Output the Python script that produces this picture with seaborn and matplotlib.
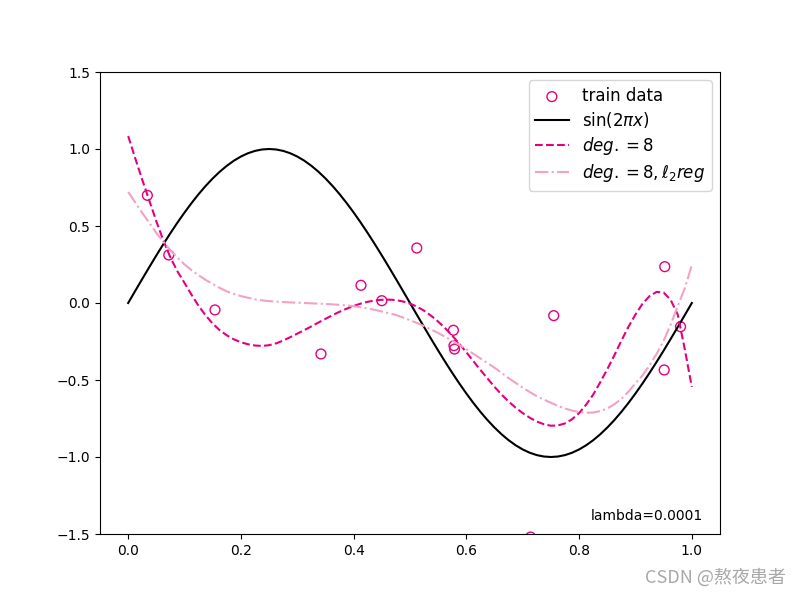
import matplotlib
matplotlib.use("Agg")
import matplotlib.pyplot as plt
import seaborn as sns

#------ train data ------
train_x = [0.034, 0.072, 0.154, 0.342, 0.413, 0.450, 0.512, 0.577, 0.578, 0.579,
           0.714, 0.755, 0.951, 0.952, 0.980]
train_y = [0.699, 0.312, -0.045, -0.331, 0.115, 0.015, 0.357, -0.177, -0.277, -0.299,
           -1.52, -0.082, -0.435, 0.236, -0.154]

# common x grid for the curves (step 0.0125)
grid_x = [i / 80 for i in range(81)]

#------ sin(2*pi*x) curve ------
sin_y = [0.0, 0.0785, 0.1564, 0.2334, 0.3090, 0.3827, 0.4540, 0.5225, 0.5878, 0.6494,
         0.7071, 0.7604, 0.8090, 0.8526, 0.8910, 0.9239, 0.9511, 0.9724, 0.9877, 0.9969,
         1.0, 0.9969, 0.9877, 0.9724, 0.9511, 0.9239, 0.8910, 0.8526, 0.8090, 0.7604,
         0.7071, 0.6494, 0.5878, 0.5225, 0.4540, 0.3827, 0.3090, 0.2334, 0.1564, 0.0785,
         0.0, -0.0785, -0.1564, -0.2334, -0.3090, -0.3827, -0.4540, -0.5225, -0.5878, -0.6494,
         -0.7071, -0.7604, -0.8090, -0.8526, -0.8910, -0.9239, -0.9511, -0.9724, -0.9877, -0.9969,
         -1.0, -0.9969, -0.9877, -0.9724, -0.9511, -0.9239, -0.8910, -0.8526, -0.8090, -0.7604,
         -0.7071, -0.6494, -0.5878, -0.5225, -0.4540, -0.3827, -0.3090, -0.2334, -0.1564, -0.0785,
         0.0]

#------ degree 8 fit ------
deg8_y = [1.084, 0.94, 0.80, 0.665, 0.53, 0.405, 0.295, 0.205, 0.13, 0.053,
          -0.019, -0.081, -0.134, -0.177, -0.210, -0.236, -0.255, -0.268, -0.276, -0.279,
          -0.274, -0.262, -0.244, -0.222, -0.199, -0.176, -0.152, -0.127, -0.103, -0.079,
          -0.057, -0.037, -0.019, -0.004, 0.008, 0.016, 0.021, 0.022, 0.019, 0.010,
          -0.004, -0.024, -0.050, -0.083, -0.121, -0.164, -0.212, -0.265, -0.320, -0.378,
          -0.435, -0.490, -0.545, -0.595, -0.640, -0.680, -0.715, -0.745, -0.770, -0.787,
          -0.797, -0.795, -0.782, -0.755, -0.715, -0.660, -0.595, -0.515, -0.430, -0.340,
          -0.245, -0.155, -0.075, -0.005, 0.045, 0.072, 0.068, 0.020, -0.075, -0.30,
          -0.545]

#------ degree 8 fit with l2 regularisation ------
reg_y = [0.721, 0.653, 0.585, 0.520, 0.455, 0.397, 0.342, 0.294, 0.25, 0.213,
         0.18, 0.150, 0.123, 0.098, 0.075, 0.059, 0.045, 0.034, 0.024, 0.017,
         0.012, 0.009, 0.006, 0.004, 0.002, 0.0, -0.002, -0.004, -0.006, -0.009,
         -0.012, -0.016, -0.021, -0.028, -0.035, -0.045, -0.055, -0.066, -0.078, -0.094,
         -0.112, -0.130, -0.15, -0.172, -0.195, -0.220, -0.245, -0.272, -0.30, -0.330,
         -0.36, -0.390, -0.42, -0.454, -0.488, -0.519, -0.55, -0.578, -0.605, -0.627,
         -0.648, -0.668, -0.685, -0.699, -0.708, -0.713, -0.711, -0.702, -0.685, -0.658,
         -0.622, -0.576, -0.522, -0.47, -0.405, -0.33, -0.245, -0.14, -0.02, 0.095,
         0.245]

lam = 0.0001

DEEP = "#e5007f"
LIGHT = "#f2a2c4"

fig, ax = plt.subplots(figsize=(8, 6), dpi=100)

sns.scatterplot(x=train_x, y=train_y, ax=ax, marker="o", s=50,
                facecolor="none", edgecolor=DEEP, linewidth=1, label="train data")
sns.lineplot(x=grid_x, y=sin_y, ax=ax, color="black", label=r"$\sin(2\pi x)$")
sns.lineplot(x=grid_x, y=deg8_y, ax=ax, color=DEEP, linestyle="--", label=r"$deg.=8$")
sns.lineplot(x=grid_x, y=reg_y, ax=ax, color=LIGHT, linestyle="-.",
             label=r"$deg.=8, \ell_2 reg$")

ax.set_ylim(-1.5, 1.5)
ax.text(0.82, -1.41, f"lambda={lam}", fontsize=10)
ax.legend(loc="upper right", fontsize=12, labelspacing=0.3)

fig.text(0.982, 0.022, "CSDN @熬夜患者", ha="right", va="bottom", fontsize=13,
         color="#a8a8a8", family=["Noto Sans CJK SC", "DejaVu Sans"])

plt.savefig("out.png", dpi=100)
